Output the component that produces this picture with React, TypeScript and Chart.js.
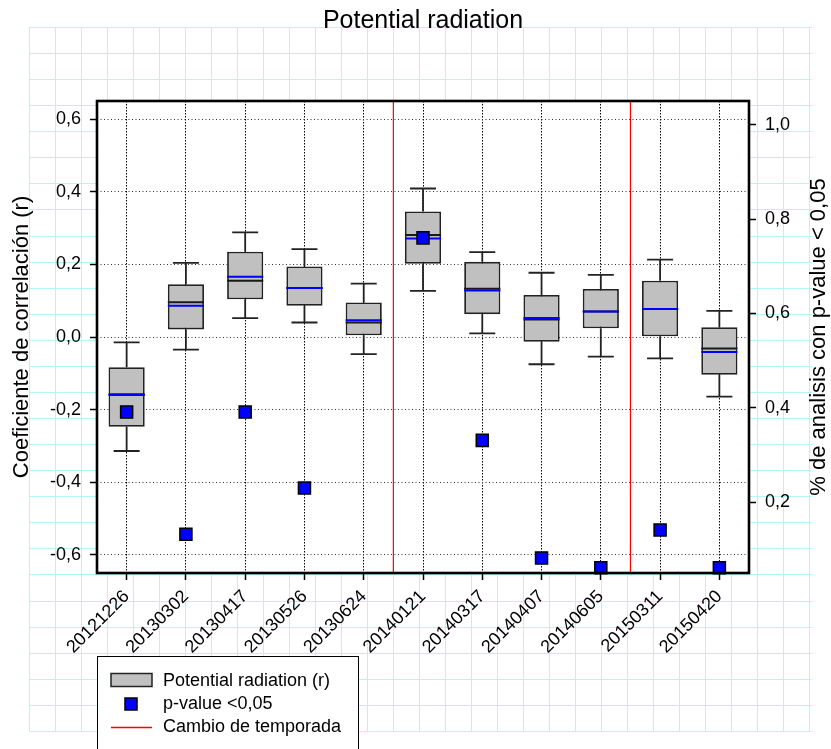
import React, { useEffect, useRef } from "react";
import { Chart, registerables } from "chart.js";

Chart.register(...registerables);

const categories = [
  "20121226", "20130302", "20130417", "20130526", "20130624", "20140121",
  "20140317", "20140407", "20140605", "20150311", "20150420",
];
const whiskerLow = [-0.314, -0.035, 0.052, 0.040, -0.047, 0.127, 0.010, -0.075, -0.054, -0.059, -0.164];
const q1 = [-0.247, 0.021, 0.104, 0.086, 0.005, 0.202, 0.063, -0.013, 0.024, 0.002, -0.104];
const medians = [-0.158, 0.096, 0.155, 0.135, 0.040, 0.281, 0.133, 0.048, 0.070, 0.077, -0.032];
const means = [-0.160, 0.086, 0.166, 0.135, 0.046, 0.271, 0.128, 0.052, 0.070, 0.077, -0.041];
const q3 = [-0.083, 0.145, 0.235, 0.194, 0.095, 0.346, 0.207, 0.116, 0.132, 0.155, 0.027];
const whiskerHigh = [-0.015, 0.204, 0.288, 0.242, 0.147, 0.409, 0.234, 0.177, 0.171, 0.213, 0.072];
const pValueShare = [0.391, 0.132, 0.391, 0.230, null, 0.760, 0.331, 0.082, 0.061, 0.141, 0.061];
const seasonBreaks = [4.5, 8.5];
const leftTicks = [-0.6, -0.4, -0.2, 0, 0.2, 0.4, 0.6];
const rightTicks = [0.2, 0.4, 0.6, 0.8, 1.0];

const titleText = "Potential radiation";
const leftTitle = "Coeficiente de correlación (r)";
const rightTitle = "% de analisis con p-value < 0,05";
const legendLabels = ["Potential radiation (r)", "p-value <0,05", "Cambio de temporada"];

const FONT = "'Liberation Sans', Arial, sans-serif";
const fmt = (v: number) => v.toFixed(1).replace(".", ",");

const decorPlugin = {
  id: "decor",
  beforeDraw(chart: any) {
    const { ctx, chartArea: a, width, height } = chart;
    ctx.save();
    ctx.fillStyle = "#ffffff";
    ctx.fillRect(0, 0, width, height);
    // graph-paper background
    ctx.strokeStyle = "#b4f6f6";
    ctx.lineWidth = 1;
    for (let i = 0; i <= 30; i++) {
      const x = 29.5 + 26 * i;
      ctx.beginPath();
      ctx.moveTo(x, 27);
      ctx.lineTo(x, 731);
      ctx.stroke();
    }
    for (let j = 0; j <= 27; j++) {
      const y = Math.round(27 + 26.07 * j) + 0.5;
      ctx.beginPath();
      ctx.moveTo(29.5, y);
      ctx.lineTo(812, y);
      ctx.stroke();
    }
    ctx.fillStyle = "#ffffff";
    ctx.fillRect(a.left, a.top, a.right - a.left, a.bottom - a.top);
    ctx.restore();
  },
  beforeDatasetsDraw(chart: any) {
    const { ctx, chartArea: a, scales } = chart;
    const xs = scales.x;
    ctx.save();
    ctx.strokeStyle = "#ff0000";
    ctx.lineWidth = 1.2;
    seasonBreaks.forEach((b) => {
      const x = (xs.getPixelForValue(Math.floor(b)) + xs.getPixelForValue(Math.ceil(b))) / 2;
      ctx.beginPath();
      ctx.moveTo(x, a.top);
      ctx.lineTo(x, a.bottom);
      ctx.stroke();
    });
    ctx.restore();
  },
  afterDatasetDraw(chart: any, args: any) {
    if (args.index !== 0) return;
    const { ctx, scales } = chart;
    const ys = scales.y;
    const meta = chart.getDatasetMeta(0);
    ctx.save();
    categories.forEach((_, i) => {
      const el = meta.data[i];
      const x = el.x;
      const half = el.width / 2;
      const yTop = ys.getPixelForValue(q3[i]);
      const yBot = ys.getPixelForValue(q1[i]);
      const yHi = ys.getPixelForValue(whiskerHigh[i]);
      const yLo = ys.getPixelForValue(whiskerLow[i]);
      ctx.strokeStyle = "#222";
      ctx.lineWidth = 1.8;
      ctx.beginPath();
      ctx.moveTo(x, yTop);
      ctx.lineTo(x, yHi);
      ctx.moveTo(x - 13, yHi);
      ctx.lineTo(x + 13, yHi);
      ctx.moveTo(x, yBot);
      ctx.lineTo(x, yLo);
      ctx.moveTo(x - 13, yLo);
      ctx.lineTo(x + 13, yLo);
      ctx.stroke();
      // median
      ctx.strokeStyle = "#1a1a1a";
      ctx.lineWidth = 2;
      const ym = ys.getPixelForValue(medians[i]);
      ctx.beginPath();
      ctx.moveTo(x - half, ym);
      ctx.lineTo(x + half, ym);
      ctx.stroke();
      // mean
      ctx.strokeStyle = "#0000ff";
      ctx.lineWidth = 2;
      const ya = ys.getPixelForValue(means[i]);
      ctx.beginPath();
      ctx.moveTo(x - half, ya);
      ctx.lineTo(x + half, ya);
      ctx.stroke();
    });
    ctx.restore();
  },
  afterDraw(chart: any) {
    const { ctx, chartArea: a } = chart;
    ctx.save();
    // frame
    ctx.strokeStyle = "#000";
    ctx.lineWidth = 2.6;
    ctx.strokeRect(a.left, a.top, a.right - a.left, a.bottom - a.top);

    ctx.fillStyle = "#000";
    // title
    ctx.font = `25px ${FONT}`;
    ctx.textAlign = "center";
    ctx.textBaseline = "alphabetic";
    ctx.fillText(titleText, (a.left + a.right) / 2, 28);

    // axis titles
    ctx.font = `22px ${FONT}`;
    ctx.textBaseline = "middle";
    ctx.save();
    ctx.translate(22, (a.top + a.bottom) / 2);
    ctx.rotate(-Math.PI / 2);
    ctx.fillText(leftTitle, 0, 0);
    ctx.restore();
    ctx.save();
    ctx.translate(819, (a.top + a.bottom) / 2);
    ctx.rotate(-Math.PI / 2);
    ctx.fillText(rightTitle, 0, 0);
    ctx.restore();

    // legend
    ctx.fillStyle = "#fff";
    ctx.fillRect(97.5, 656.5, 261, 110);
    ctx.strokeStyle = "#000";
    ctx.lineWidth = 1;
    ctx.strokeRect(97.5, 656.5, 261, 110);

    ctx.fillStyle = "#c0c0c0";
    ctx.fillRect(111, 673.5, 41, 13);
    ctx.strokeStyle = "#222";
    ctx.lineWidth = 1.5;
    ctx.strokeRect(111, 673.5, 41, 13);

    ctx.fillStyle = "#0000ff";
    ctx.fillRect(125, 698, 12, 12);
    ctx.strokeStyle = "#000";
    ctx.lineWidth = 1.5;
    ctx.strokeRect(125, 698, 12, 12);

    ctx.strokeStyle = "#ff0000";
    ctx.lineWidth = 1.5;
    ctx.beginPath();
    ctx.moveTo(111, 727.5);
    ctx.lineTo(152, 727.5);
    ctx.stroke();

    ctx.fillStyle = "#000";
    ctx.font = `18px ${FONT}`;
    ctx.textAlign = "left";
    ctx.textBaseline = "middle";
    ctx.fillText(legendLabels[0], 163, 681);
    ctx.fillText(legendLabels[1], 163, 704);
    ctx.fillText(legendLabels[2], 163, 727);
    ctx.restore();
  },
};

export default function App() {
  const ref = useRef<HTMLCanvasElement | null>(null);

  useEffect(() => {
    if (!ref.current) return;
    Chart.defaults.font.family = FONT;
    const chart = new Chart(ref.current, {
      type: "bar",
      data: {
        labels: categories,
        datasets: [
          {
            type: "bar",
            label: legendLabels[0],
            data: categories.map((_, i) => [q1[i], q3[i]]) as any,
            backgroundColor: "#c0c0c0",
            borderColor: "#222",
            borderWidth: 1.8,
            borderSkipped: false,
            barPercentage: 0.61,
            categoryPercentage: 1,
            yAxisID: "y",
            order: 1,
          } as any,
          {
            type: "line",
            label: legendLabels[1],
            data: pValueShare as any,
            yAxisID: "y2",
            showLine: false,
            pointStyle: "rect",
            pointRadius: 8.5,
            pointHoverRadius: 8.5,
            pointBackgroundColor: "#0000ff",
            pointBorderColor: "#000",
            pointBorderWidth: 1.5,
            clip: false,
            order: 0,
          } as any,
        ],
      },
      options: {
        animation: false,
        responsive: false,
        devicePixelRatio: 1,
        events: [],
        layout: { padding: { top: 101, left: 0, right: 0, bottom: 0 } },
        plugins: {
          legend: { display: false },
          title: { display: false },
          tooltip: { enabled: false },
        },
        scales: {
          x: {
            type: "category",
            offset: true,
            grid: {
              offset: false,
              color: "#000",
              lineWidth: 1,
              drawTicks: true,
              tickLength: 7,
              tickColor: "#000",
              tickWidth: 1.5,
              tickBorderDash: [],
            },
            border: { display: false, dash: [1.5, 1.5] },
            ticks: {
              autoSkip: false,
              minRotation: 45,
              maxRotation: 45,
              padding: 6,
              color: "#000",
              font: { size: 18, family: FONT },
            },
            afterFit: (s: any) => {
              s.height = 176;
            },
          },
          y: {
            type: "linear",
            position: "left",
            min: -0.65,
            max: 0.65,
            grid: {
              color: "#333",
              lineWidth: 1,
              drawTicks: true,
              tickLength: 7,
              tickColor: "#000",
              tickWidth: 1.5,
              tickBorderDash: [],
            },
            border: { display: false, dash: [1, 2.5] },
            ticks: {
              padding: 9,
              color: "#000",
              font: { size: 18, family: FONT },
              callback: (v: any) => fmt(Number(v)),
            },
            afterBuildTicks: (s: any) => {
              s.ticks = leftTicks.map((v) => ({ value: v }));
            },
            afterFit: (s: any) => {
              s.width = 97;
            },
          },
          y2: {
            type: "linear",
            position: "right",
            min: 0.05,
            max: 1.05,
            grid: {
              drawOnChartArea: false,
              drawTicks: true,
              tickLength: 7,
              color: "#000",
              tickColor: "#000",
              tickWidth: 1.5,
            },
            border: { display: false },
            ticks: {
              padding: 9,
              color: "#000",
              font: { size: 18, family: FONT },
              callback: (v: any) => fmt(Number(v)),
            },
            afterBuildTicks: (s: any) => {
              s.ticks = rightTicks.map((v) => ({ value: v }));
            },
            afterFit: (s: any) => {
              s.width = 82;
            },
          },
        },
      } as any,
      plugins: [decorPlugin],
    });
    return () => chart.destroy();
  }, []);

  return (
    <div style={{ position: "absolute", left: 0, top: 0, width: 831, height: 749 }}>
      <canvas ref={ref} width={831} height={749} style={{ display: "block" }} />
    </div>
  );
}
